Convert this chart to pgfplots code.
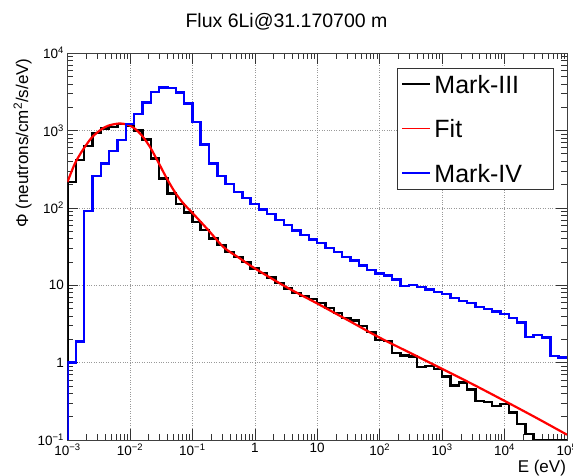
\documentclass[border=0pt]{standalone}
\usepackage{fontspec}
\setmainfont{Liberation Sans}
\usepackage{pgfplots}
\usepackage{pgfplotstable}
\pgfplotsset{compat=1.18}

% bin left edges (60 log bins from 1e-3 to 1e5) and contents
\pgfplotstableread{
x y
1e-3 0.1
1e-3 216
1.35936e-3 412
1.84785e-3 625
2.51189e-3 929
3.41455e-3 1058
4.64159e-3 1110
6.30957e-3 1200
8.57696e-3 1150
1.16591e-2 1000
1.58489e-2 763
2.15443e-2 434
2.92864e-2 240
3.98107e-2 153
5.41170e-2 112
7.35642e-2 87
0.1 66
0.135936 51.5
0.184785 40
0.251189 33
0.341455 27
0.464159 23.3
0.630957 20.1
0.857696 16.5
1.16591 14.5
1.58489 12.5
2.15443 10.6
2.92864 9.1
3.98107 7.9
5.41170 7.3
7.35642 6.6
10 5.84
13.5936 5.03
18.4785 4.34
25.1189 3.74
34.1455 3.48
46.4159 2.97
63.0957 2.5
85.7696 1.96
116.591 1.9
158.489 1.32
215.443 1.24
292.864 1.2
398.107 0.87
541.170 0.9
735.642 0.82
1000 0.66
1359.36 0.505
1847.85 0.55
2511.89 0.45
3414.55 0.32
4641.59 0.31
6309.57 0.276
8576.96 0.29
11659.1 0.227
15848.9 0.16
21544.3 0.12
29286.4 0.1
39810.7 0.1
54117.0 0.1
73564.2 0.1
100000 0.1
}\markiii

\pgfplotstableread{
x y
1e-3 0.1
1e-3 1.0
1.35936e-3 1.87
1.84785e-3 91.5
2.51189e-3 257
3.41455e-3 374
4.64159e-3 544
6.30957e-3 748
8.57696e-3 1203
1.16591e-2 1618
1.58489e-2 2291
2.15443e-2 3141
2.92864e-2 3580
3.98107e-2 3500
5.41170e-2 3084
7.35642e-2 2223
0.1 1288
0.135936 658
0.184785 374
0.251189 257
0.341455 202
0.464159 161
0.630957 134
0.857696 112
1.16591 95
1.58489 83
2.15443 70
2.92864 60
3.98107 51
5.41170 44.4
7.35642 39
10 35
13.5936 30.5
18.4785 27
25.1189 23.3
34.1455 20.9
46.4159 17.9
63.0957 15.8
85.7696 14.2
116.591 13.3
158.489 11.9
215.443 9.7
292.864 10.1
398.107 9.5
541.170 8.85
735.642 8.2
1000 7.7
1359.36 6.8
1847.85 6.2
2511.89 5.84
3414.55 5.2
4641.59 4.94
6309.57 4.55
8576.96 4.25
11659.1 3.74
15848.9 3.28
21544.3 2.16
29286.4 2.28
39810.7 2.1
54117.0 1.22
73564.2 1.17
100000 1.17
}\markiv

\pgfplotstableread{
x y
1e-3 216
1.318e-3 375
1.778e-3 567
2.455e-3 810
3.311e-3 1000
4.467e-3 1150
6.918e-3 1230
9.55e-3 1170
1.202e-2 1050
1.549e-2 860
2.089e-2 613
2.884e-2 380
3.89e-2 240
5.37e-2 155
7.244e-2 113
0.1 86
0.1778 52
0.3162 31
0.5623 22.5
1 16.5
3.162 9.5
10 5.8
31.62 3.5
100 2.1
316.2 1.32
1000 0.83
3162 0.52
10000 0.32
31623 0.195
100000 0.117
}\fitdata

\begin{document}
\begin{tikzpicture}
\begin{axis}[
  at={(67.5pt,36pt)}, anchor=south west,
  scale only axis, width=499.5pt, height=387pt,
  xmode=log, ymode=log,
  xmin=1e-3, xmax=1e5, ymin=0.1, ymax=1e4,
  xtick={1e-3,1e-2,1e-1,1,10,100,1e3,1e4,1e5},
  xticklabels={10\textsuperscript{−3},10\textsuperscript{−2},10\textsuperscript{−1},1,10,10\textsuperscript{2},10\textsuperscript{3},10\textsuperscript{4},10\textsuperscript{5}},
  ytick={0.1,1,10,100,1000,10000},
  yticklabels={10\textsuperscript{−1},1,10,10\textsuperscript{2},10\textsuperscript{3},10\textsuperscript{4}},
  grid=major,
  major grid style={dotted, gray!80, line width=0.5pt},
  tick align=inside,
  major tick length=11pt, minor tick length=6pt,
  every tick/.style={black!80, line width=0.5pt},
  axis line style={line width=0.7pt, black!75},
  ticklabel style={font=\fontsize{13.5}{14}\selectfont},
  xlabel={E (eV)},
  ylabel={Φ (neutrons/cm\textsuperscript{2}/s/eV)},
  label style={font=\fontsize{17}{19}\selectfont},
  xlabel style={at={(axis description cs:1.005,-0.083)}, anchor=base east},
  ylabel style={at={(axis description cs:-0.079,0.995)}, anchor=base east},
  legend style={at={(0.659,0.962)}, anchor=north west, draw=black!80, line width=0.8pt,
    font=\fontsize{25}{28}\selectfont, row sep=20.5pt, inner xsep=4pt, inner ysep=4pt,
    nodes={text height=18pt, text depth=0pt, inner ysep=3pt, inner xsep=3pt},
    cells={anchor=west}},
  legend image code/.code={\draw[#1, line width=2.4pt] (0pt,0pt) -- (28pt,0pt);},
]
\addplot[black, line width=2.4pt, const plot mark left] table[x=x,y=y] {\markiii};
\addlegendentry{\makebox[112pt][l]{Mark-III}}
\addplot[red, line width=2.2pt, smooth,
  legend image code/.code={\draw[red, line width=1.3pt] (0pt,0pt) -- (28pt,0pt);}] table[x=x,y=y] {\fitdata};
\addlegendentry{\makebox[112pt][l]{Fit}}
\addplot[blue, line width=2.4pt, const plot mark left] table[x=x,y=y] {\markiv};
\addlegendentry{\makebox[112pt][l]{Mark-IV}}
\end{axis}
\node[anchor=base, font=\fontsize{19.5}{22}\selectfont] at (286.5pt,448pt) {Flux 6Li@31.170700 m};
\pgfresetboundingbox
\useasboundingbox (0,0) rectangle (573pt,476pt);
\end{tikzpicture}
\end{document}
